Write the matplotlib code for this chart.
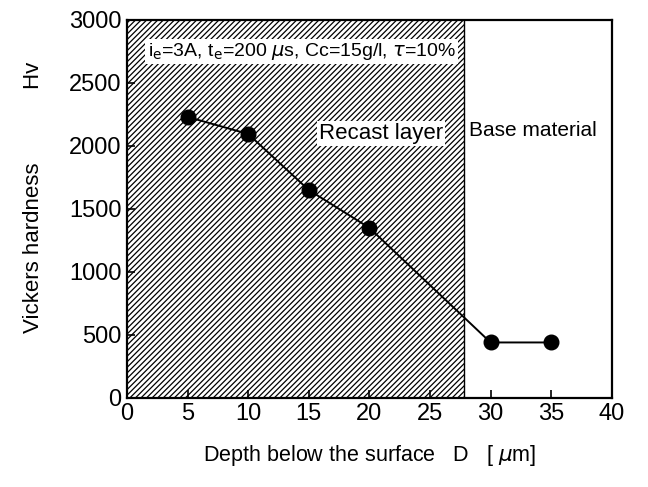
import numpy as np
import matplotlib.pyplot as plt

plt.rcParams['font.family'] = ['Liberation Sans', 'DejaVu Sans']
plt.rcParams['hatch.linewidth'] = 0.9

depth = [5, 10, 15, 20, 30, 35]
hardness = [2230, 2095, 1650, 1350, 440, 440]
recast_end = 27.8
xticks = [0, 5, 10, 15, 20, 25, 30, 35, 40]
yticks = [0, 500, 1000, 1500, 2000, 2500, 3000]

fig = plt.figure(figsize=(6.48, 4.87), dpi=100)
ax = fig.add_axes([0.196, 0.183, 0.748, 0.776])

# hatched recast layer
ax.axvspan(0, recast_end, facecolor='white', edgecolor='black', hatch='//////',
           linewidth=0, zorder=0)
ax.axvline(recast_end, color='black', linewidth=1.0, zorder=1)

ax.plot(depth, hardness, color='black', linewidth=1.4, marker='o',
        markersize=10.5, markerfacecolor='black', zorder=3)

ax.set_xlim(0, 40)
ax.set_ylim(0, 3000)
ax.set_xticks(xticks)
ax.set_yticks(yticks)
ax.tick_params(direction='in', length=6, width=1.2, labelsize=17, pad=4)
for s in ax.spines.values():
    s.set_linewidth(1.6)

ax.text(1.7, 2750, r'i$_\mathrm{e}$=3A, t$_\mathrm{e}$=200 $\mu$s, Cc=15g/l, $\tau$=10%',
        fontsize=14, va='center', ha='left', zorder=4,
        bbox=dict(facecolor='white', edgecolor='none', pad=1.5))
ax.text(recast_end - 1.75, 2100, 'Recast layer', fontsize=16, ha='right', va='center',
        zorder=4, bbox=dict(facecolor='white', edgecolor='none', pad=1.5))
ax.text(recast_end + 0.4, 2120, 'Base material', fontsize=15, ha='left', va='center',
        zorder=4)

ax.set_xlabel(r'Depth below the surface   D   [ $\mu$m]', fontsize=15.5, labelpad=13)
ax.set_ylabel('Vickers hardness' + ' ' * 12 + 'Hv', fontsize=16)
ax.yaxis.set_label_coords(-0.172, 0.53)

fig.savefig('out.png', dpi=100)
